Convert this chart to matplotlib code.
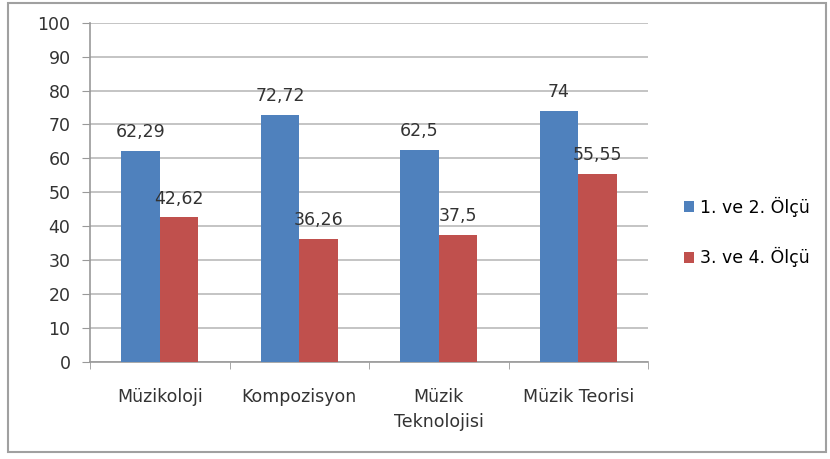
import matplotlib
matplotlib.use("Agg")
import matplotlib.pyplot as plt
from matplotlib.patches import Rectangle
import numpy as np

# data
categories = ["Müzikoloji", "Kompozisyon", "Müzik\nTeknolojisi", "Müzik Teorisi"]
olcu_12 = [62.29, 72.72, 62.5, 74]
olcu_34 = [42.62, 36.26, 37.5, 55.55]
labels_12 = ["62,29", "72,72", "62,5", "74"]
labels_34 = ["42,62", "36,26", "37,5", "55,55"]
series_names = ["1. ve 2. Ölçü", "3. ve 4. Ölçü"]

blue = "#4F81BD"
red = "#C0504D"
grid_col = "#BFBFBF"

plt.rcParams['font.family'] = ['DejaVu Sans']

fig = plt.figure(figsize=(8.3, 4.59), dpi=100)
ax = fig.add_axes([90/830, 1-362/459, (648-90)/830, (362-22.7)/459])

x = np.arange(len(categories))
w = 0.277
b1 = ax.bar(x - w/2, olcu_12, w, color=blue, label=series_names[0], zorder=3)
b2 = ax.bar(x + w/2, olcu_34, w, color=red, label=series_names[1], zorder=3)

for bars, labs in ((b1, labels_12), (b2, labels_34)):
    for r, t in zip(bars, labs):
        ax.annotate(t, (r.get_x() + r.get_width()/2, r.get_height()),
                    xytext=(0, 10), textcoords="offset points",
                    ha="center", va="baseline", fontsize=12.5, color="#333333", zorder=4)

ax.set_xlim(-0.5, len(categories) - 0.5)
ax.set_ylim(0, 100)
ax.set_yticks(range(0, 101, 10))
ax.yaxis.grid(True, color=grid_col, lw=1.3, zorder=0)
ax.set_axisbelow(True)

ax.set_xticks(x)
ax.set_xticklabels(categories, fontsize=12.5, color="#333333", linespacing=1.45)
ax.set_xticks(np.arange(-0.5, len(categories), 1), minor=True)
ax.tick_params(axis="x", which="major", length=0, pad=19)
ax.tick_params(axis="x", which="minor", length=5, color="#999999")
ax.tick_params(axis="y", length=6, color="#999999", labelsize=12.5, labelcolor="#333333", pad=8)

for s in ("top", "right"):
    ax.spines[s].set_visible(False)
for s in ("left", "bottom"):
    ax.spines[s].set_color("#999999")
    ax.spines[s].set_linewidth(1.2)

fig.legend(handles=[b1, b2], labels=series_names, loc="center left",
           bbox_to_anchor=(668/830, 1-232/459), frameon=False, fontsize=12.5,
           handlelength=0.6, handleheight=0.6, handletextpad=0.35, labelspacing=1.75)

fig.patches.append(Rectangle((8/830, 1-452/459), 818/830, 449/459,
                             transform=fig.transFigure, fill=False,
                             edgecolor="#A0A0A0", lw=1.5))

fig.savefig("out.png", dpi=100)
